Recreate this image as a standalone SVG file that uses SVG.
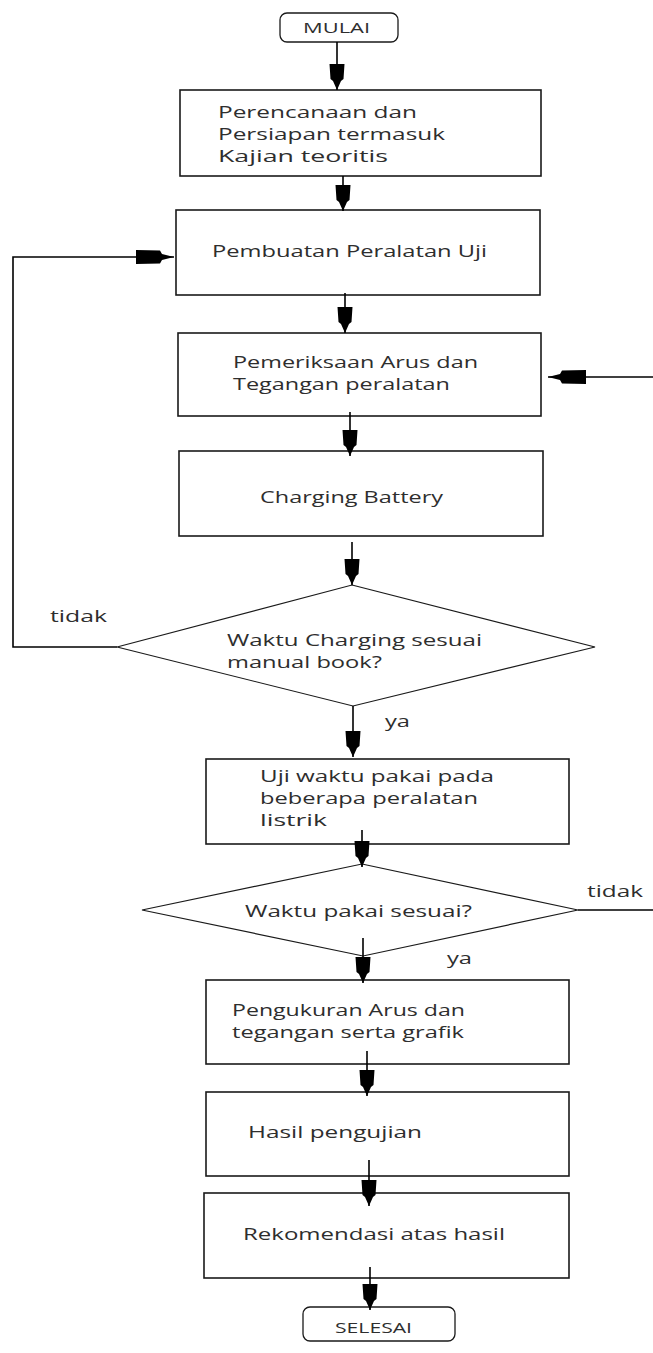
<svg xmlns="http://www.w3.org/2000/svg" width="653" height="1353" viewBox="0 0 653 1353">
<style>
.bg{fill:#fff}
.box{fill:#fff;stroke:#1a1a1a;stroke-width:1.6}
.term{fill:#fff;stroke:#1a1a1a;stroke-width:1.3}
.dia{fill:#fff;stroke:#1a1a1a;stroke-width:1.2}
.con{fill:none;stroke:#000;stroke-width:1.6}
.t{font-family:"Open Sans","Liberation Sans",sans-serif;font-size:16.5px;fill:#2e2e2e}
.s{font-family:"Open Sans","Liberation Sans",sans-serif;font-size:14px;fill:#2e2e2e}
</style>
<defs>
<marker id="av" viewBox="-27 -9 28 18" markerWidth="28" markerHeight="18" refX="0" refY="0" markerUnits="userSpaceOnUse" orient="auto">
<path d="M0,0 L-9,-4 L-11,-6.5 L-26,-7.5 L-26,7.5 L-11,6.5 L-9,4 Z" fill="#000"/>
</marker>
<marker id="ah" viewBox="-40 -9 41 18" markerWidth="41" markerHeight="18" refX="0" refY="0" markerUnits="userSpaceOnUse" orient="auto">
<path d="M0,0 L-12,-3 L-14,-6.5 L-38,-7 L-38,7 L-14,6.5 L-12,3 Z" fill="#000"/>
</marker>
</defs>
<rect class="bg" x="0" y="0" width="653" height="1353"/>

<g id="mulai">
<rect class="term" x="280" y="13" width="118" height="29" rx="7"/>
<text class="s" x="303" y="33" textLength="67" lengthAdjust="spacingAndGlyphs">MULAI</text>
</g>
<g id="perencanaan">
<rect class="box" x="180" y="90" width="361" height="86"/>
<text class="t" x="218" y="118" textLength="199" lengthAdjust="spacingAndGlyphs">Perencanaan dan</text>
<text class="t" x="218" y="140" textLength="227" lengthAdjust="spacingAndGlyphs">Persiapan termasuk</text>
<text class="t" x="218" y="162" textLength="170" lengthAdjust="spacingAndGlyphs">Kajian teoritis</text>
</g>
<g id="pembuatan">
<rect class="box" x="176" y="210" width="364" height="85"/>
<text class="t" x="212" y="257" textLength="275" lengthAdjust="spacingAndGlyphs">Pembuatan Peralatan Uji</text>
</g>
<g id="pemeriksaan">
<rect class="box" x="178" y="333" width="363" height="83"/>
<text class="t" x="233" y="368" textLength="245" lengthAdjust="spacingAndGlyphs">Pemeriksaan Arus dan</text>
<text class="t" x="233" y="390" textLength="217" lengthAdjust="spacingAndGlyphs">Tegangan peralatan</text>
</g>
<g id="charging">
<rect class="box" x="179" y="451" width="364" height="85"/>
<text class="t" x="260" y="503" textLength="183" lengthAdjust="spacingAndGlyphs">Charging Battery</text>
</g>
<g id="cek-charging">
<polygon class="dia" points="352,585 595,647 353,706 117,647"/>
<text class="t" x="227" y="646" textLength="255" lengthAdjust="spacingAndGlyphs">Waktu Charging sesuai</text>
<text class="t" x="227" y="668" textLength="155" lengthAdjust="spacingAndGlyphs">manual book?</text>
</g>
<g id="uji-waktu">
<rect class="box" x="206" y="759" width="363" height="85"/>
<text class="t" x="260" y="782" textLength="234" lengthAdjust="spacingAndGlyphs">Uji waktu pakai pada</text>
<text class="t" x="260" y="804" textLength="218" lengthAdjust="spacingAndGlyphs">beberapa peralatan</text>
<text class="t" x="260" y="826" textLength="67" lengthAdjust="spacingAndGlyphs">listrik</text>
</g>
<g id="cek-pakai">
<polygon class="dia" points="362,864 578,910 363,956 142,910"/>
<text class="t" x="245" y="917" textLength="227" lengthAdjust="spacingAndGlyphs">Waktu pakai sesuai?</text>
</g>
<g id="pengukuran">
<rect class="box" x="206" y="980" width="363" height="84"/>
<text class="t" x="232" y="1016" textLength="233" lengthAdjust="spacingAndGlyphs">Pengukuran Arus dan</text>
<text class="t" x="232" y="1038" textLength="232" lengthAdjust="spacingAndGlyphs">tegangan serta grafik</text>
</g>
<g id="hasil">
<rect class="box" x="206" y="1092" width="363" height="84"/>
<text class="t" x="248" y="1138" textLength="174" lengthAdjust="spacingAndGlyphs">Hasil pengujian</text>
</g>
<g id="rekomendasi">
<rect class="box" x="204" y="1193" width="365" height="85"/>
<text class="t" x="243" y="1240" textLength="262" lengthAdjust="spacingAndGlyphs">Rekomendasi atas hasil</text>
</g>
<g id="selesai">
<rect class="term" x="303" y="1307" width="152" height="34" rx="7"/>
<text class="s" x="335" y="1333" textLength="77" lengthAdjust="spacingAndGlyphs">SELESAI</text>
</g>

<g id="connectors">
<line class="con" x1="337" y1="42" x2="337" y2="90" marker-end="url(#av)"/>
<line class="con" x1="343" y1="176" x2="343" y2="211" marker-end="url(#av)"/>
<line class="con" x1="345" y1="293" x2="345" y2="333" marker-end="url(#av)"/>
<line class="con" x1="350" y1="412" x2="350" y2="456" marker-end="url(#av)"/>
<line class="con" x1="352" y1="542" x2="352" y2="585" marker-end="url(#av)"/>
<line class="con" x1="353" y1="706" x2="353" y2="757" marker-end="url(#av)"/>
<line class="con" x1="362" y1="830" x2="362" y2="867" marker-end="url(#av)"/>
<line class="con" x1="363" y1="938" x2="363" y2="983" marker-end="url(#av)"/>
<line class="con" x1="367" y1="1051" x2="367" y2="1096" marker-end="url(#av)"/>
<line class="con" x1="369" y1="1160" x2="369" y2="1206" marker-end="url(#av)"/>
<line class="con" x1="370" y1="1267" x2="370" y2="1310" marker-end="url(#av)"/>
<polyline class="con" points="117,647 13,647 13,257 174,257" marker-end="url(#ah)"/>
<line class="con" x1="653" y1="377" x2="548" y2="377" marker-end="url(#ah)"/>
<line class="con" x1="578" y1="910" x2="653" y2="910"/>
<text class="t" x="50" y="622" textLength="57" lengthAdjust="spacingAndGlyphs">tidak</text>
<text class="t" x="385" y="727" textLength="25" lengthAdjust="spacingAndGlyphs">ya</text>
<text class="t" x="587" y="897" textLength="56" lengthAdjust="spacingAndGlyphs">tidak</text>
<text class="t" x="447" y="964" textLength="25" lengthAdjust="spacingAndGlyphs">ya</text>
</g>
</svg>
